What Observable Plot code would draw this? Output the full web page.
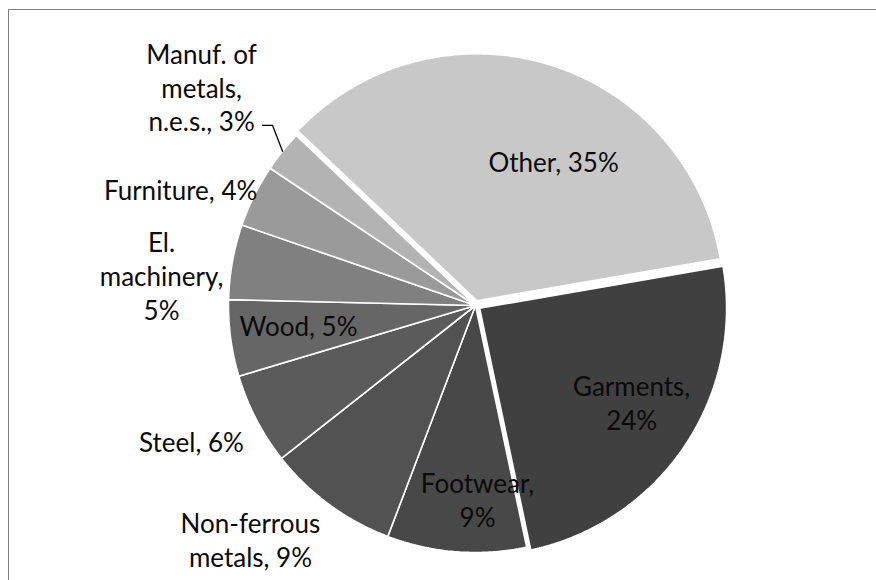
<!DOCTYPE html>
<html>
<head>
<meta charset="utf-8">
<script src="https://cdn.jsdelivr.net/npm/d3@7"></script>
<script src="https://cdn.jsdelivr.net/npm/@observablehq/plot@0.6"></script>
<style>
  html, body { margin: 0; padding: 0; background: #fff; overflow: hidden; }
  #wrap { position: relative; width: 876px; height: 580px; overflow: hidden; }
  #frame { position: absolute; left: 8px; top: 9px; width: 2000px; height: 2000px;
           border-left: 1.5px solid #7f7f7f; border-top: 1.5px solid #7f7f7f; box-sizing: border-box; }
  #chart { position: absolute; left: 0; top: 0; }
</style>
</head>
<body>
<div id="wrap"><div id="frame"></div><div id="chart"></div></div>
<script>
// ---- data ----
const categories = ["Garments", "Footwear", "Non-ferrous metals", "Steel", "Wood",
                    "El. machinery", "Furniture", "Manuf. of metals, n.e.s.", "Other"];
const shares = [24.4, 9.1, 8.6, 6.0, 5.0, 4.9, 4.1, 2.7, 35.2];
const labelLines = ["Garments,\n24%", "Footwear,\n9%", "Non-ferrous\nmetals, 9%", "Steel, 6%",
                    "Wood, 5%", "El.\nmachinery,\n5%", "Furniture, 4%", "Manuf. of\nmetals,\nn.e.s., 3%",
                    "Other, 35%"];

// ---- layout / style ----
const W = 876, H = 580, CX = 475, CY = 305, R = 247;
const startAngle = 80.2;               // degrees clockwise from 12 o'clock
const explode = [0.02, 0, 0, 0, 0, 0, 0, 0, 0.02];
const grays = ["#404040", "#484848", "#525252", "#5b5b5b", "#666666",
               "#808080", "#9a9a9a", "#b3b3b3", "#c8c8c8"];
// label placement as [angle (deg), radius factor]
const labelPolar = [[121.7, 0.743], [179.4, 0.785], [223.9, 1.314], [244.4, 1.275], [263.6, 0.721],
                    [275.5, 1.277], [291.6, 1.284], [308.6, 1.419], [28.5, 0.663]];

const rad = d => d * Math.PI / 180;
const total = d3.sum(shares);
let acc = startAngle;
const slices = categories.map((name, i) => {
  const a0 = acc, a1 = acc + shares[i] / total * 360;
  acc = a1;
  const mid = (a0 + a1) / 2;
  return {name, i, a0, a1, mid, ox: Math.sin(rad(mid)) * explode[i], oy: Math.cos(rad(mid)) * explode[i]};
});

const pts = [];
for (const s of slices) {
  pts.push({name: s.name, x: s.ox, y: s.oy});
  const n = Math.max(2, Math.ceil((s.a1 - s.a0) / 0.5));
  for (let k = 0; k <= n; k++) {
    const a = rad(s.a0 + (s.a1 - s.a0) * k / n);
    pts.push({name: s.name, x: s.ox + Math.sin(a), y: s.oy + Math.cos(a)});
  }
  pts.push({name: s.name, x: s.ox, y: s.oy});
}

const labels = slices.map((s, i) => ({
  text: labelLines[i],
  x: Math.sin(rad(labelPolar[i][0])) * labelPolar[i][1],
  y: Math.cos(rad(labelPolar[i][0])) * labelPolar[i][1]
}));

// leader line for the small "Manuf. of metals" slice: from slice edge at bisector, to elbow, then left
const ms = slices[7];
const edge = {x: Math.sin(rad(ms.mid)), y: Math.cos(rad(ms.mid))};
const elbow = {x: Math.sin(rad(311.6)) * 1.099, y: Math.cos(rad(311.6)) * 1.099};
const leader = [edge, elbow, {x: elbow.x - 10 / R, y: elbow.y}];

const chart = Plot.plot({
  width: W, height: H,
  margin: 0,
  x: {domain: [-CX / R, (W - CX) / R], axis: null},
  y: {domain: [-(H - CY) / R, CY / R], axis: null},
  color: {type: "ordinal", domain: categories, range: grays},
  marks: [
    Plot.line(pts, {x: "x", y: "y", z: "name", fill: "name", stroke: "white",
                    strokeWidth: 1.6, strokeLinejoin: "miter", curve: "linear"}),
    Plot.line(leader, {x: "x", y: "y", stroke: "#000", strokeWidth: 1.3}),
    Plot.text(labels, {x: "x", y: "y", text: "text", fontSize: 26, fontFamily: "Lato",
                       fill: "#0a0a0a", lineAnchor: "middle", lineHeight: 1.3, textAnchor: "middle"})
  ]
});
chart.style.background = "transparent";
document.getElementById("chart").appendChild(chart);
</script>
</body>
</html>
